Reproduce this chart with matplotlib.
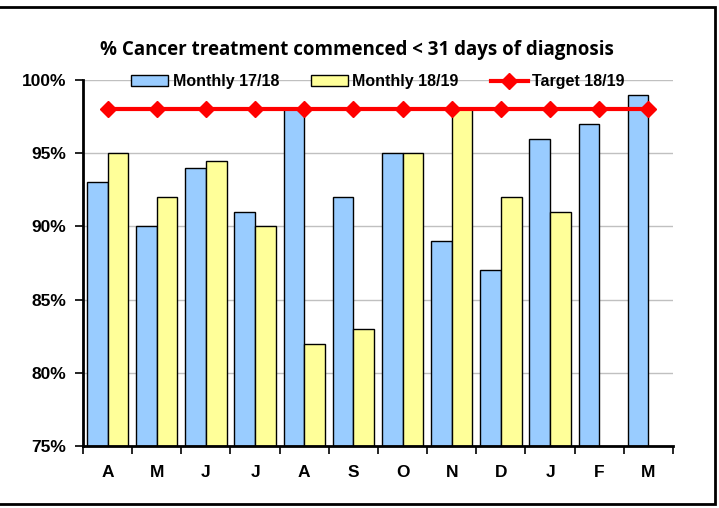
import matplotlib
matplotlib.use('Agg')
import matplotlib.pyplot as plt
from matplotlib.patches import Rectangle
import numpy as np

months = ['A', 'M', 'J', 'J', 'A', 'S', 'O', 'N', 'D', 'J', 'F', 'M']
monthly_1718 = [93, 90, 94, 91, 98, 92, 95, 89, 87, 96, 97, 99]
monthly_1819 = [95, 92, 94.5, 90, 82, 83, 95, 98, 92, 91]
target_1819 = [98] * 12

narrow = ['Liberation Sans Narrow', 'Liberation Sans', 'DejaVu Sans']

fig = plt.figure(figsize=(7.19, 5.08), dpi=100)
ax = fig.add_axes([0.1154, 0.122, 0.8206, 0.7205])

x = np.arange(len(months))
w = 0.42
b1 = ax.bar(x[:len(monthly_1718)] - w / 2, [v - 75 for v in monthly_1718], w, bottom=75,
            color='#99CCFF', edgecolor='black', linewidth=1, label='Monthly 17/18', zorder=2)
b2 = ax.bar(x[:len(monthly_1819)] + w / 2, [v - 75 for v in monthly_1819], w, bottom=75,
            color='#FFFF99', edgecolor='black', linewidth=1, label='Monthly 18/19', zorder=2)
ln, = ax.plot(x, target_1819, color='#FF0000', linewidth=3, marker='D', markersize=8,
              label='Target 18/19', zorder=3, clip_on=False)

ax.set_xlim(-0.5, len(months) - 0.5)
ax.set_ylim(75, 100)
ax.set_yticks([75, 80, 85, 90, 95, 100])
ax.set_yticklabels(['75%', '80%', '85%', '90%', '95%', '100%'])
ax.grid(axis='y', color='#C0C0C0', linewidth=1, zorder=0)
ax.set_axisbelow(True)

ax.set_xticks(x)
ax.set_xticklabels(months)
ax.set_xticks(np.arange(-0.5, len(months)), minor=True)
ax.tick_params(axis='x', which='major', length=0, pad=14)
ax.tick_params(axis='x', which='minor', length=6, width=1.2, direction='out')
ax.tick_params(axis='y', length=6, width=1.2, direction='out', pad=6)
for lbl in ax.get_xticklabels() + ax.get_yticklabels():
    lbl.set_family(narrow)
    lbl.set_fontweight('bold')
    lbl.set_fontsize(12.5)

for s in ['top', 'right']:
    ax.spines[s].set_visible(False)
for s in ['left', 'bottom']:
    ax.spines[s].set_linewidth(2)

leg = ax.legend([b1, b2, ln], ['Monthly 17/18', 'Monthly 18/19', 'Target 18/19'],
                loc='center', bbox_to_anchor=(0.5, 0.995), ncol=3, frameon=False,
                handlelength=2.3, handletextpad=0.3, columnspacing=2.0,
                prop={'family': narrow, 'weight': 'bold', 'size': 11.5})

fig.text(0.497, 0.9016, '% Cancer treatment commenced < 31 days of diagnosis',
         ha='center', va='center', fontsize=13.5, fontweight='bold',
         family=['Open Sans', 'DejaVu Sans'])

fig.patches.append(Rectangle((-0.01, 0.008), 1.004, 0.978, transform=fig.transFigure,
                             fill=False, edgecolor='black', linewidth=2))

fig.savefig('out.png', dpi=100)
